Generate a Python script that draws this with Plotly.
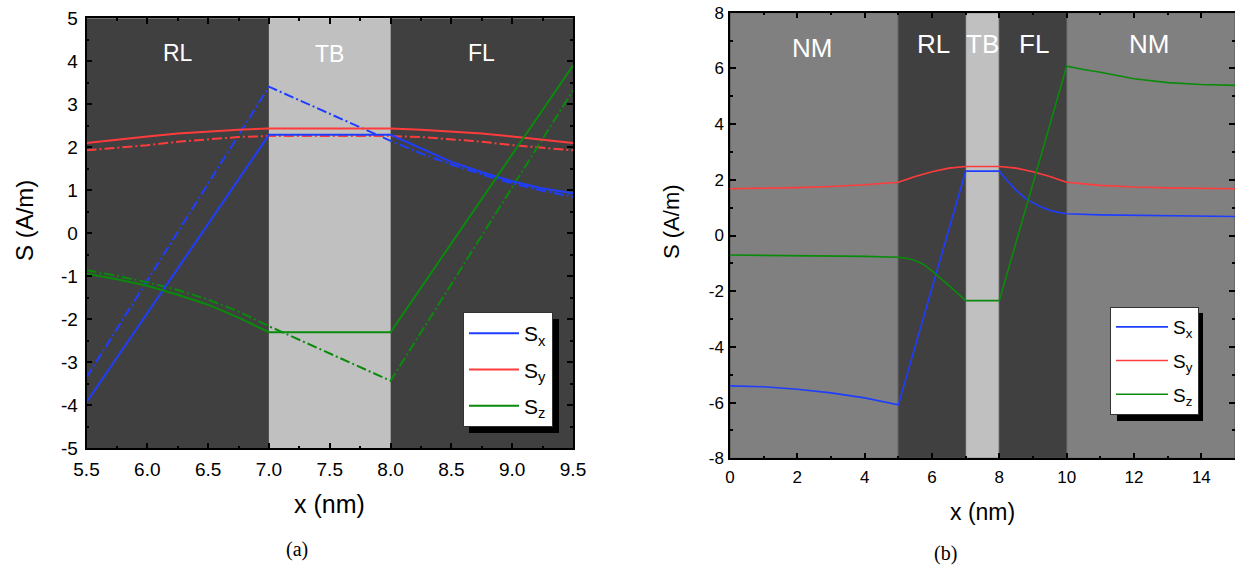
import plotly.graph_objects as go

# ---------------- Panel (a) data ----------------
a_sx_x = [5.5, 7.0, 8.0, 8.25, 8.5, 8.75, 9.0, 9.25, 9.5]
a_sx = [-3.93, 2.29, 2.29, 1.97, 1.66, 1.42, 1.21, 1.04, 0.93]
a_sx_dd = [-3.35, 3.41, 2.15, 1.86, 1.60, 1.37, 1.16, 0.99, 0.85]

a_sy_x = [5.5, 5.75, 6.0, 6.25, 6.5, 6.75, 7.0, 8.0, 8.25, 8.5, 8.75, 9.0, 9.25, 9.5]
a_sy = [2.10, 2.18, 2.25, 2.32, 2.37, 2.41, 2.44, 2.44, 2.41, 2.37, 2.32, 2.25, 2.18, 2.10]
a_sy_dd = [1.93, 1.99, 2.05, 2.13, 2.19, 2.24, 2.26, 2.26, 2.24, 2.19, 2.13, 2.05, 1.99, 1.93]

a_sz_x = [5.5, 5.75, 6.0, 6.25, 6.5, 6.75, 7.0, 8.0, 9.5]
a_sz = [-0.94, -1.07, -1.22, -1.43, -1.66, -1.96, -2.30, -2.30, 3.90]
a_sz_dd = [-0.86, -0.99, -1.14, -1.32, -1.54, -1.82, -2.16, -3.43, 3.32]

a_regions = ["RL", "TB", "FL"]
a_region_x = [(5.5, 7.0), (7.0, 8.0), (8.0, 9.5)]
a_region_col = ["#404040", "#c0c0c0", "#404040"]
a_label_x = [6.25, 7.5, 8.75]
a_label_y = [4.2, 4.17, 4.2]

a_xticks = [5.5, 6.0, 6.5, 7.0, 7.5, 8.0, 8.5, 9.0, 9.5]
a_xticktext = ["5.5", "6.0", "6.5", "7.0", "7.5", "8.0", "8.5", "9.0", "9.5"]
a_yticks = [-5, -4, -3, -2, -1, 0, 1, 2, 3, 4, 5]
a_yticktext = ["-5", "-4", "-3", "-2", "-1", "0", "1", "2", "3", "4", "5"]

# ---------------- Panel (b) data ----------------
b_sx_x = [0, 1, 2, 3, 4, 5, 7, 8, 8.25, 8.5, 8.75, 9, 9.25, 9.5, 9.75, 10, 11, 12, 13, 14, 15]
b_sx = [-5.40, -5.43, -5.52, -5.65, -5.83, -6.08, 2.31, 2.31, 1.95, 1.62, 1.36, 1.17, 1.02,
        0.91, 0.83, 0.78, 0.74, 0.72, 0.70, 0.69, 0.68]

b_sy_x = [0, 1, 2, 3, 4, 5, 5.5, 6, 6.5, 7, 8, 8.5, 9, 9.5, 10, 11, 12, 13, 14, 15]
b_sy = [1.68, 1.69, 1.72, 1.76, 1.82, 1.91, 2.12, 2.29, 2.42, 2.48, 2.48, 2.42, 2.29, 2.12,
        1.91, 1.80, 1.74, 1.71, 1.69, 1.68]

b_sz_x = [0, 1, 2, 3, 4, 5, 5.25, 5.5, 5.75, 6, 6.25, 6.5, 6.75, 7, 8, 10, 10.5, 11, 12, 13, 14, 15]
b_sz = [-0.70, -0.71, -0.72, -0.73, -0.75, -0.78, -0.82, -0.90, -1.04, -1.27, -1.52, -1.79,
        -2.06, -2.34, -2.34, 6.08, 5.96, 5.86, 5.63, 5.49, 5.42, 5.39]

b_regions = ["NM", "RL", "TB", "FL", "NM"]
b_region_x = [(0, 5), (5, 7), (7, 8), (8, 10), (10, 15)]
b_region_col = ["#808080", "#404040", "#c0c0c0", "#404040", "#808080"]
b_label_x = [2.45, 6.04, 7.5, 9.04, 12.46]
b_label_y = [6.75, 6.88, 6.88, 6.88, 6.88]

b_xticks = [0, 2, 4, 6, 8, 10, 12, 14]
b_xticktext = ["0", "2", "4", "6", "8", "10", "12", "14"]
b_yticks = [-8, -6, -4, -2, 0, 2, 4, 6, 8]
b_yticktext = ["-8", "-6", "-4", "-2", "0", "2", "4", "6", "8"]

names = ["S<sub>x</sub>", "S<sub>y</sub>", "S<sub>z</sub>"]
BLUE = "#1f3dff"
RED = "#ff3c3c"
GREEN = "#0a8a0a"
colors = [BLUE, RED, GREEN]

W, H = 1235, 565
FONT = "Liberation Sans, Arial, sans-serif"

fig = go.Figure()

# panel (a) traces
a_series = [(a_sx_x, a_sx, a_sx_dd), (a_sy_x, a_sy, a_sy_dd), (a_sz_x, a_sz, a_sz_dd)]
for i, (xs, ys, yd) in enumerate(a_series):
    fig.add_trace(go.Scatter(x=xs, y=yd, mode="lines", xaxis="x", yaxis="y",
                             line=dict(color=colors[i], width=2, dash="10px,3px,2px,3px"),
                             showlegend=False, hoverinfo="skip"))
for i, (xs, ys, yd) in enumerate(a_series):
    fig.add_trace(go.Scatter(x=xs, y=ys, mode="lines", xaxis="x", yaxis="y",
                             line=dict(color=colors[i], width=2), name=names[i],
                             legend="legend", legendgroup="a%d" % i))

# panel (b) traces
b_series = [(b_sx_x, b_sx), (b_sy_x, b_sy), (b_sz_x, b_sz)]
for i, (xs, ys) in enumerate(b_series):
    fig.add_trace(go.Scatter(x=xs, y=ys, mode="lines", xaxis="x2", yaxis="y2",
                             line=dict(color=colors[i], width=1.6), name=names[i],
                             legend="legend2", legendgroup="b%d" % i))

shapes = []
for (x0, x1), c in zip(a_region_x, a_region_col):
    shapes.append(dict(type="rect", xref="x", yref="y domain", x0=x0, x1=x1, y0=0, y1=1,
                       fillcolor=c, line=dict(width=0), layer="below"))
for (x0, x1), c in zip(b_region_x, b_region_col):
    shapes.append(dict(type="rect", xref="x2", yref="y2 domain", x0=x0, x1=x1, y0=0, y1=1,
                       fillcolor=c, line=dict(width=1, color="#555555"), layer="below"))


def px2paper(x, y):
    return x / W, 1 - y / H


# legend shadows (paper coords)
for (l, t, r, b) in [(469, 319, 559, 433), (1117, 313, 1203, 421)]:
    x0, y1 = px2paper(l, t)
    x1, y0 = px2paper(r, b)
    shapes.append(dict(type="rect", xref="paper", yref="paper", x0=x0, x1=x1, y0=y0, y1=y1,
                       fillcolor="black", line=dict(width=0), layer="above"))

annotations = []
for t, x, y in zip(a_regions, a_label_x, a_label_y):
    annotations.append(dict(text=t, x=x, y=y, xref="x", yref="y", showarrow=False,
                            font=dict(color="white", size=23, family=FONT)))
for t, x, y in zip(b_regions, b_label_x, b_label_y):
    annotations.append(dict(text=t, x=x, y=y, xref="x2", yref="y2", showarrow=False,
                            font=dict(color="white", size=26, family=FONT)))


def pa(text, x, y, size, angle=0, family=FONT):
    px, py = px2paper(x, y)
    return dict(text=text, x=px, y=py, xref="paper", yref="paper", showarrow=False,
                xanchor="center", yanchor="middle", textangle=angle,
                font=dict(size=size, color="black", family=family))


annotations += [
    pa("S (A/m)", 24, 221, 24, -90),
    pa("x (nm)", 329, 504, 25),
    pa("S (A/m)", 671, 222, 22, -90),
    pa("x (nm)", 982, 512, 23),
    pa("(a)", 297, 549, 20, family="Liberation Serif, serif"),
    pa("(b)", 945, 553, 20, family="Liberation Serif, serif"),
]


def axis(domain, rng, tickvals, ticktext, minor_dtick, anchor, size, standoff):
    return dict(domain=domain, range=rng, anchor=anchor, tickmode="array",
                tickvals=tickvals, ticktext=ticktext, ticks="inside", ticklen=6,
                tickwidth=1.5, tickcolor="black", showline=True, linecolor="black",
                linewidth=1.5, mirror="allticks", showgrid=False, zeroline=False,
                tickfont=dict(size=size, family=FONT, color="black"),
                ticklabelstandoff=standoff,
                minor=dict(ticks="inside", ticklen=3, tickwidth=1.5, tickcolor="black",
                           dtick=minor_dtick, showgrid=False))


fig.update_layout(
    width=W, height=H, margin=dict(l=0, r=0, t=0, b=0, autoexpand=False),
    paper_bgcolor="white", plot_bgcolor="white",
    font=dict(family=FONT, color="black"),
    xaxis=axis([86.5 / W, 573 / W], [5.5, 9.5], a_xticks, a_xticktext, 0.25, "y", 19, 3),
    yaxis=axis([1 - 448.3 / H, 1 - 18.3 / H], [-5, 5], a_yticks, a_yticktext, 0.5, "x", 19, 3),
    xaxis2=axis([730 / W, 1.0], [0, 15], b_xticks, b_xticktext, 1, "y2", 17, 3),
    yaxis2=axis([1 - 458.3 / H, 1 - 12.7 / H], [-8, 8], b_yticks, b_yticktext, 1, "x2", 17, 1),
    shapes=shapes, annotations=annotations,
    legend=dict(x=463 / W, y=1 - 312 / H, xanchor="left", yanchor="top",
                bgcolor="white", bordercolor="#333333", borderwidth=1,
                font=dict(size=21, family=FONT, color="black"), tracegroupgap=6,
                itemwidth=50),
    legend2=dict(x=1110 / W, y=1 - 307 / H, xanchor="left", yanchor="top",
                 bgcolor="white", bordercolor="#333333", borderwidth=1,
                 font=dict(size=19, family=FONT, color="black"), tracegroupgap=6,
                 itemwidth=52),
    showlegend=True,
)

fig.write_html("out.html", config={"displayModeBar": False},
               post_script="document.body.style.margin='0';document.body.style.overflow='hidden';")
